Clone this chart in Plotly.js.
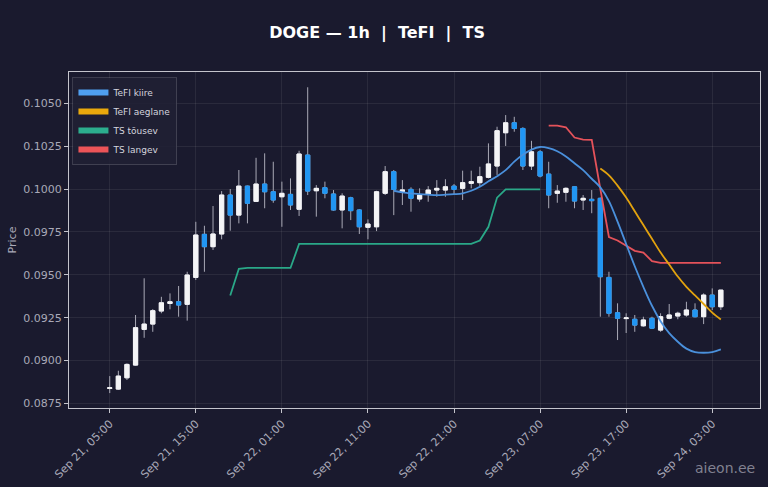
<!DOCTYPE html>
<html>
<head>
<meta charset="utf-8">
<script src="https://cdn.plot.ly/plotly-3.0.1.min.js"></script>
<style>
  html, body { margin: 0; padding: 0; background: #1a1a2e; }
  #chart { width: 768px; height: 487px; }
</style>
</head>
<body>
<div id="chart"></div>
<script>
// hourly candles, Sep 21 05:00 -> Sep 24 04:00
var startHour = '2025-09-21T05:00:00Z';
var candleCount = 72;

var openP = [
  0.08838, 0.08834, 0.08900, 0.08974, 0.09182, 0.09213, 0.09289, 0.09333, 0.09343, 0.09328,
  0.09485, 0.09736, 0.09664, 0.09738, 0.09965, 0.09848, 0.10017, 0.09928, 0.10029, 0.09984,
  0.09955, 0.09969, 0.09882, 0.10198, 0.09990, 0.10008, 0.09971, 0.09878, 0.09949, 0.09878,
  0.09777, 0.09780, 0.09975, 0.10101, 0.09985, 0.09998, 0.09942, 0.09971, 0.09994, 0.09994,
  0.10017, 0.10004, 0.10033, 0.10037, 0.10068, 0.10134, 0.10328, 0.10386, 0.10353, 0.10134,
  0.10217, 0.10087, 0.09975, 0.09981, 0.10013, 0.09936, 0.09940, 0.09946, 0.09485, 0.09279,
  0.09245, 0.09241, 0.09203, 0.09247, 0.09178, 0.09247, 0.09260, 0.09266, 0.09295, 0.09256,
  0.09382, 0.09314
];
var highP = [
  0.08910, 0.08941, 0.08984, 0.09266, 0.09480, 0.09300, 0.09372, 0.09392, 0.09435, 0.09518,
  0.09809, 0.09786, 0.09901, 0.09988, 0.10000, 0.10111, 0.10020, 0.10182, 0.10208, 0.10159,
  0.10043, 0.10062, 0.10223, 0.10593, 0.10023, 0.10043, 0.09994, 0.09975, 0.09955, 0.09882,
  0.09823, 0.09990, 0.10134, 0.10111, 0.10052, 0.10010, 0.10004, 0.10017, 0.10052, 0.10057,
  0.10029, 0.10107, 0.10107, 0.10130, 0.10266, 0.10363, 0.10431, 0.10421, 0.10360, 0.10281,
  0.10227, 0.10159, 0.10023, 0.10010, 0.10015, 0.09965, 0.09994, 0.09950, 0.09518, 0.09334,
  0.09276, 0.09266, 0.09256, 0.09256, 0.09276, 0.09330, 0.09285, 0.09343, 0.09334, 0.09392,
  0.09421, 0.09411
];
var lowP = [
  0.08811, 0.08829, 0.08887, 0.08970, 0.09133, 0.09168, 0.09276, 0.09299, 0.09256, 0.09233,
  0.09470, 0.09518, 0.09645, 0.09707, 0.09757, 0.09800, 0.09800, 0.09925, 0.09888, 0.09920,
  0.09780, 0.09878, 0.09843, 0.09965, 0.09839, 0.09946, 0.09874, 0.09771, 0.09819, 0.09738,
  0.09707, 0.09755, 0.09965, 0.09848, 0.09907, 0.09868, 0.09926, 0.09926, 0.09955, 0.09955,
  0.09971, 0.09936, 0.10004, 0.10017, 0.10062, 0.10082, 0.10251, 0.10334, 0.10111, 0.10111,
  0.10068, 0.09888, 0.09920, 0.09926, 0.09888, 0.09878, 0.09859, 0.09256, 0.09256, 0.09120,
  0.09161, 0.09168, 0.09198, 0.09184, 0.09168, 0.09241, 0.09241, 0.09256, 0.09252, 0.09213,
  0.09295, 0.09295
];
var closeP = [
  0.08842, 0.08910, 0.08978, 0.09192, 0.09213, 0.09291, 0.09337, 0.09343, 0.09324, 0.09499,
  0.09732, 0.09664, 0.09738, 0.09965, 0.09848, 0.10017, 0.09917, 0.10029, 0.09984, 0.09936,
  0.09975, 0.09907, 0.10204, 0.09988, 0.10004, 0.09975, 0.09878, 0.09959, 0.09874, 0.09780,
  0.09796, 0.09984, 0.10101, 0.09998, 0.09995, 0.09946, 0.09965, 0.09994, 0.10004, 0.10013,
  0.09998, 0.10037, 0.10043, 0.10072, 0.10146, 0.10340, 0.10386, 0.10353, 0.10134, 0.10217,
  0.10076, 0.09965, 0.09988, 0.10004, 0.09930, 0.09946, 0.09932, 0.09489, 0.09276, 0.09247,
  0.09249, 0.09207, 0.09237, 0.09189, 0.09256, 0.09266, 0.09276, 0.09295, 0.09256, 0.09382,
  0.09314, 0.09411
];

// TeFI kiire (fast) from candle 33
var fastStart = 33;
var fastVals = [
  0.0999, 0.0998, 0.09975, 0.0997, 0.09967, 0.09965, 0.09967, 0.0997, 0.09975, 0.0999,
  0.10013, 0.10045, 0.10075, 0.1011, 0.1016, 0.1020, 0.1023, 0.10245, 0.10238, 0.1022,
  0.1019, 0.1015, 0.1011, 0.1006, 0.1001, 0.0993, 0.0981, 0.0968, 0.0955, 0.0943,
  0.0932, 0.0923, 0.0916, 0.0911, 0.0907, 0.0905, 0.09046, 0.0905, 0.09066
];
// TeFI aeglane (slow) from candle 57
var slowStart = 57;
var slowVals = [
  0.1012, 0.1008, 0.1002, 0.0995, 0.0987, 0.0979, 0.0971, 0.0963, 0.0956, 0.0949,
  0.0943, 0.0938, 0.0933, 0.0928, 0.0924
];
// TS tõusev from candle 14
var upStart = 14;
var upVals = [
  0.0938, 0.09535, 0.0954, 0.0954, 0.0954, 0.0954, 0.0954, 0.0954,
  0.0968, 0.0968, 0.0968, 0.0968, 0.0968, 0.0968, 0.0968, 0.0968, 0.0968, 0.0968,
  0.0968, 0.0968, 0.0968, 0.0968, 0.0968, 0.0968, 0.0968, 0.0968, 0.0968, 0.0968, 0.0968,
  0.0970, 0.0978, 0.0995, 0.09998, 0.09998, 0.09998, 0.09998, 0.09998
];
// TS langev from candle 51
var downStart = 51;
var downVals = [
  0.1037, 0.1037, 0.1036, 0.1030, 0.10288, 0.10286, 0.1000, 0.0972, 0.0970, 0.0967,
  0.0964, 0.0963, 0.0958, 0.0957, 0.0957, 0.0957, 0.0957, 0.0957, 0.0957, 0.0957, 0.0957
];

var seriesNames = ['TeFI kiire', 'TeFI aeglane', 'TS tõusev', 'TS langev'];
var seriesColors = ['#4f9ff0', '#eaa90c', '#2cae8e', '#ec5458'];
var lineColors = ['#4a90dc', '#e2a20e', '#2aa888', '#e4525a'];

var times = [];
var t0 = new Date(startHour).getTime();
for (let i = 0; i < candleCount; i++) {
    times.push(new Date(t0 + i * 3600e3).toISOString().slice(0, 16).replace('T', ' '));
}

function lineTrace(start, vals, idx, smooth) {
    return {
        type: 'scatter',
        mode: 'lines',
        x: times.slice(start, start + vals.length),
        y: vals,
        line: { color: lineColors[idx], width: 1.8, shape: smooth ? 'spline' : 'linear', smoothing: 1 },
        showlegend: false,
        hoverinfo: 'skip'
    };
}

// wicks (grey) underneath
var wicks = {
    type: 'candlestick',
    x: times, open: openP, high: highP, low: lowP, close: closeP,
    increasing: { line: { color: '#a9a9b6', width: 1 }, fillcolor: '#ffffff' },
    decreasing: { line: { color: '#a9a9b6', width: 1 }, fillcolor: '#2196f3' },
    showlegend: false,
    hoverinfo: 'skip'
};

// bodies on top, without wicks
var bodyHigh = openP.map(function (o, i) { return Math.max(o, closeP[i]); });
var bodyLow = openP.map(function (o, i) { return Math.min(o, closeP[i]); });
var bodies = {
    type: 'candlestick',
    x: times, open: openP, high: bodyHigh, low: bodyLow, close: closeP,
    increasing: { line: { color: '#f4f4f6', width: 1 }, fillcolor: '#f4f4f6' },
    decreasing: { line: { color: '#2196f3', width: 1 }, fillcolor: '#2196f3' },
    showlegend: false,
    hoverinfo: 'skip'
};

var data = [
    lineTrace(upStart, upVals, 2, false),
    lineTrace(downStart, downVals, 3, false),
    wicks,
    bodies,
    lineTrace(fastStart, fastVals, 0, true),
    lineTrace(slowStart, slowVals, 1, true)
];

// legend patches
for (let k = 0; k < seriesNames.length; k++) {
    data.push({
        type: 'scatter',
        mode: 'none',
        x: [null], y: [null],
        fill: 'toself',
        fillcolor: seriesColors[k],
        name: seriesNames[k],
        showlegend: true
    });
}

var axisColor = '#c4c4cc';
var tickColor = '#a9a9b8';

var layout = {
    width: 768,
    height: 487,
    paper_bgcolor: '#1a1a2e',
    plot_bgcolor: '#1a1a2e',
    font: { family: 'DejaVu Sans', color: tickColor, size: 11 },
    margin: { l: 69, r: 8, t: 72, b: 79 },
    title: {
        text: '<b>DOGE — 1h\u00a0\u00a0|\u00a0\u00a0TeFI\u00a0\u00a0|\u00a0\u00a0TS</b>',
        font: { family: 'DejaVu Sans', size: 16, color: '#ffffff' },
        x: 0.491, xref: 'container', xanchor: 'center',
        y: 0.934, yref: 'container', yanchor: 'middle'
    },
    xaxis: {
        type: 'date',
        range: ['2025-09-21 00:16', '2025-09-24 08:33'],
        rangeslider: { visible: false },
        tick0: '2025-09-21 05:00',
        dtick: 36e6,
        tickformat: '%b %d, %H:%M',
        tickangle: -45,
        ticks: 'outside', ticklen: 4, tickcolor: axisColor,
        showline: true, linecolor: axisColor, linewidth: 1, mirror: true,
        showgrid: true, gridcolor: 'rgba(255,255,255,0.07)',
        zeroline: false,
        tickfont: { size: 11, color: tickColor }
    },
    yaxis: {
        range: [0.08724, 0.10682],
        tick0: 0.0875, dtick: 0.0025,
        tickformat: '.4f',
        ticks: 'outside', ticklen: 4, tickcolor: axisColor,
        showline: true, linecolor: axisColor, linewidth: 1, mirror: true,
        showgrid: true, gridcolor: 'rgba(255,255,255,0.07)',
        zeroline: false,
        tickfont: { size: 11, color: tickColor },
        title: { text: 'Price', font: { size: 11, color: tickColor }, standoff: 4 }
    },
    showlegend: true,
    legend: {
        x: 0.005, y: 0.985, xanchor: 'left', yanchor: 'top',
        bgcolor: 'rgba(32,32,52,0.9)',
        bordercolor: 'rgba(255,255,255,0.15)', borderwidth: 1,
        font: { size: 9, color: '#d4d4de' },
        tracegroupgap: 0
    },
    annotations: [{
        text: 'aieon.ee',
        xref: 'paper', yref: 'paper',
        x: 0.996, y: -0.179, xanchor: 'right', yanchor: 'middle',
        showarrow: false,
        font: { size: 14, color: 'rgba(200,200,212,0.6)' }
    }]
};

Plotly.newPlot('chart', data, layout, { displayModeBar: false, staticPlot: true });
</script>
</body>
</html>
